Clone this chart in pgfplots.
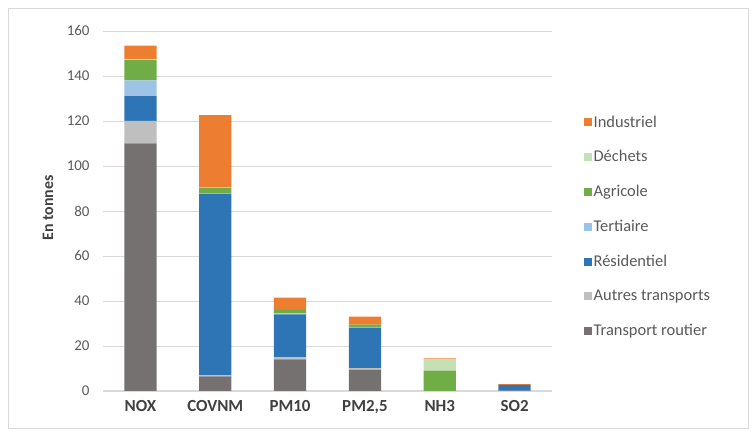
\documentclass[border=0pt]{standalone}
\usepackage{pgfplots}
\pgfplotsset{compat=1.18}
\usepackage{fontspec}
\setmainfont{Carlito}
\definecolor{cRout}{HTML}{767171}
\definecolor{cAut}{HTML}{BFBFBF}
\definecolor{cRes}{HTML}{2E75B6}
\definecolor{cTer}{HTML}{9DC3E6}
\definecolor{cAgr}{HTML}{70AD47}
\definecolor{cDec}{HTML}{C5E0B4}
\definecolor{cInd}{HTML}{ED7D31}
\definecolor{cGrid}{HTML}{D9D9D9}
\definecolor{cTick}{HTML}{595959}
\definecolor{cLab}{HTML}{404040}
\begin{document}
\begin{tikzpicture}[x=1bp,y=1bp]
\useasboundingbox (-103,-44) rectangle (650,391);
\draw[cGrid, line width=0.8bp] (-95,-37) rectangle (645,383);
\begin{axis}[
  at={(0,0)}, anchor=south west,
  scale only axis, width=449bp, height=360bp,
  ybar stacked, bar width=0.43,
  xmin=-0.5, xmax=5.5, ymin=0, ymax=160,
  xtick={0,1,2,3,4,5},
  xticklabels={{NOX},{COVNM},{PM10},{PM2,5},{NH3},{SO2}},
  ytick={0,20,...,160},
  axis x line*=bottom, axis y line*=left,
  x axis line style={cGrid, line width=1bp, -},
  y axis line style={draw=none},
  major tick length=0pt,
  ymajorgrids, grid style={cGrid, line width=0.8bp},
  xticklabel style={font=\fontsize{17}{20}\selectfont\bfseries, text=cLab, yshift=-6bp},
  yticklabel style={font=\fontsize{15}{18}\selectfont, text=cTick, xshift=-10bp},
  /pgf/number format/assume math mode=true,
  ylabel={En tonnes},
  every axis y label/.style={at={(-55bp,183bp)}, rotate=90, anchor=center,
    font=\fontsize{16}{19}\selectfont\bfseries, text=cLab},
  clip=false,
  reverse legend,
  legend style={draw=none, fill=none, at={(1.07,0.771)}, anchor=north west,
    font=\fontsize{16.5}{20}\selectfont, text=cTick, row sep=18bp,
    legend cell align=left, inner sep=0pt},
  legend image code/.code={\fill[#1] (0bp,-4bp) rectangle (8bp,4bp);},
]
\addplot[fill=cRout, draw=none] coordinates {(0,110) (1,6.5) (2,14) (3,9.5) (4,0) (5,0.2)};
\addplot[fill=cAut, draw=none] coordinates {(0,10) (1,0.6) (2,1) (3,0.7) (4,0) (5,0)};
\addplot[fill=cRes, draw=none] coordinates {(0,11) (1,80.5) (2,19) (3,18) (4,0) (5,2.5)};
\addplot[fill=cTer, draw=none] coordinates {(0,7) (1,0.3) (2,0.5) (3,0.3) (4,0) (5,0)};
\addplot[fill=cAgr, draw=none] coordinates {(0,9) (1,2.5) (2,1.5) (3,1) (4,9) (5,0)};
\addplot[fill=cDec, draw=none] coordinates {(0,0.5) (1,0.2) (2,0) (3,0) (4,5) (5,0)};
\addplot[fill=cInd, draw=none] coordinates {(0,6) (1,32) (2,5.5) (3,3.5) (4,0.5) (5,0.3)};
\legend{Transport routier,Autres transports,R\'esidentiel,Tertiaire,Agricole,D\'echets,Industriel}
\end{axis}
\end{tikzpicture}
\end{document}
